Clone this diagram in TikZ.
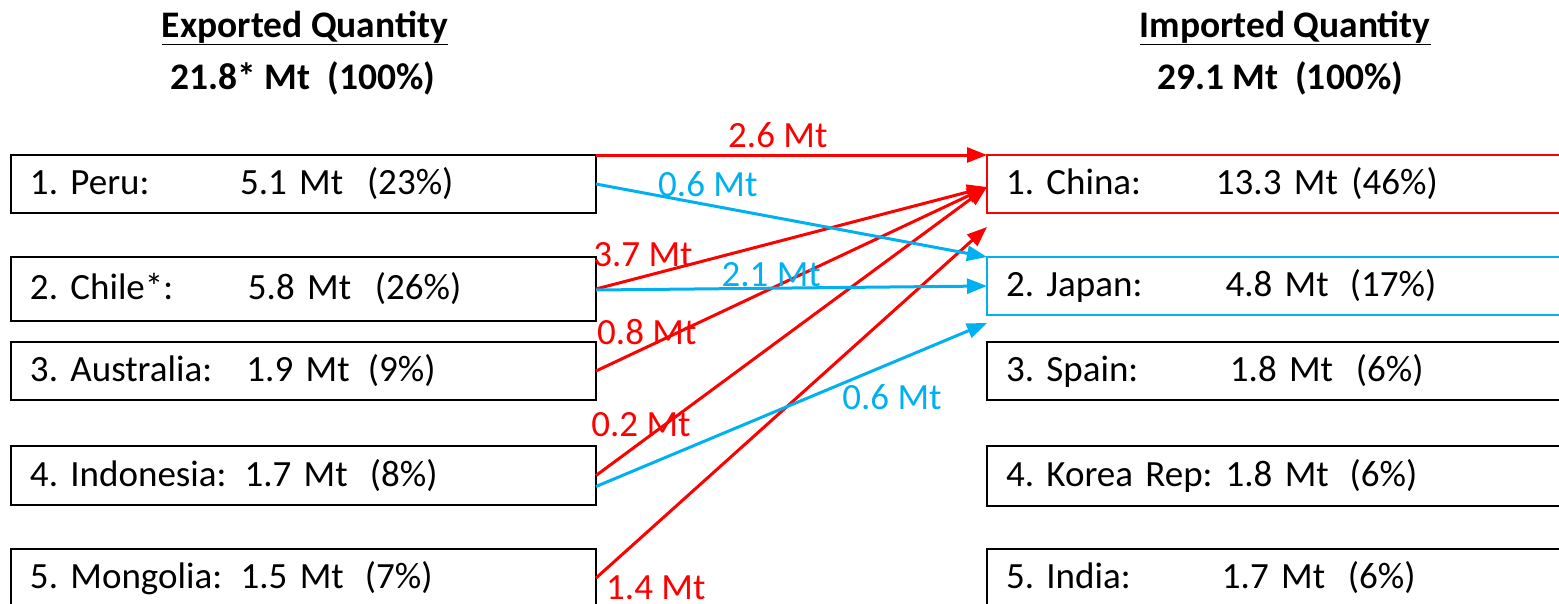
\documentclass[tikz,border=0pt]{standalone}
\usepackage{fontspec}
\setmainfont{Carlito}
\usepackage{tikz}
\usetikzlibrary{arrows.meta}
\definecolor{flowred}{RGB}{255,0,0}
\definecolor{flowblue}{RGB}{0,176,240}
\newcommand{\qtyrow}[5]{\makebox[#2][l]{#1}\makebox[#4][l]{#3}#5}
\frenchspacing

\begin{document}
\begin{tikzpicture}[x=1pt, y=-1pt, font=\fontsize{37}{44}\selectfont,
	country/.style={draw, line width=2pt, rectangle, anchor=north west, outer sep=0pt, inner ysep=0pt, minimum height=58pt, align=left},
	expbox/.style={country, text width=547pt, inner xsep=19pt},
	impbox/.style={country, text width=582pt, inner xsep=19pt},
	flow/.style={line width=3pt, -{Triangle[length=20pt, width=15pt]}},
	lbl/.style={anchor=base, inner sep=0pt},
	heading/.style={anchor=base, font=\fontsize{37.5}{44}\selectfont\bfseries}]
	\useasboundingbox (0,0) rectangle (1559,603);
	\clip (0,0) rectangle (1559,603);
	% headings
	\node [heading] (exph) at (305,37) {\underline{Exported Quantity}};
	\node [heading] (expt) at (303,89) {21.8* Mt~~(100\%)};
	\node [heading] (imph) at (1285,37) {\underline{Imported Quantity}};
	\node [heading] (impt) at (1280,89) {29.1 Mt~~(100\%)};
	% exporters
	\node [expbox] (peru) at (11,155) {\qtyrow{1. Peru:}{210pt}{5.1 Mt}{127pt}{(23\%)}};
	\node [expbox, minimum height=64pt] (chile) at (11,257) {\qtyrow{2. Chile*:}{218pt}{5.8 Mt}{127pt}{(26\%)}};
	\node [expbox] (aus) at (11,342) {\qtyrow{3. Australia:}{216.5pt}{1.9 Mt}{121.5pt}{(9\%)}};
	\node [expbox, minimum height=59pt] (indo) at (11,446) {\qtyrow{4. Indonesia:}{214.6pt}{1.7 Mt}{125.4pt}{(8\%)}};
	\node [expbox] (mong) at (11,549) {\qtyrow{5. Mongolia:}{210.7pt}{1.5 Mt}{124.3pt}{(7\%)}};
	% importers
	\node [impbox, draw=flowred] (china) at (987,155) {\qtyrow{1. China:}{210pt}{13.3 Mt}{135.5pt}{(46\%)}};
	\node [impbox, draw=flowblue] (japan) at (987,257) {\qtyrow{2. Japan:}{219.6pt}{4.8 Mt}{124.4pt}{(17\%)}};
	\node [impbox] (spain) at (987,342) {\qtyrow{3. Spain:}{224pt}{1.8 Mt}{126pt}{(6\%)}};
	\node [impbox, minimum height=60pt] (korea) at (987,446) {\qtyrow{4. Korea Rep:}{219.6pt}{1.8 Mt}{124pt}{(6\%)}};
	\node [impbox] (india) at (987,549) {\qtyrow{5. India:}{216pt}{1.7 Mt}{126pt}{(6\%)}};
	%
	\coordinate (cnin) at ([yshift=-3pt]china.west);
	\coordinate (cnlow) at ([yshift=-14pt]china.south west);
	\coordinate (jplow) at ([yshift=-8pt]japan.south west);
	%
	\draw [flow, flowred] (peru.north east) -- node [lbl, pos=0.465, yshift=8pt] (l1) {2.6 Mt} (china.north west);
	\draw [flow, flowred] (chile.east) -- node [lbl, pos=0.12, yshift=10pt] (l3) {3.7 Mt} (cnin);
	\draw [flow, flowred] (aus.east) -- node [lbl, pos=0.13, yshift=3pt] (l5) {0.8 Mt} (cnin);
	\draw [flow, flowred] (indo.east) -- node [lbl, pos=0.115, yshift=6pt] (l6) {0.2 Mt} (cnin);
	\draw [flow, flowred] (mong.east) -- node [lbl, pos=0.153, yshift=-75pt] (l8) {1.4 Mt} (cnlow);
	\draw [flow, flowblue] (peru.east) -- node [lbl, pos=0.286, yshift=8pt] (l2) {0.6 Mt} (japan.north west);
	\draw [flow, flowblue] ([yshift=-1pt]chile.east) -- node [lbl, pos=0.448, yshift=2pt] (l4) {2.1 Mt} (japan.west);
	\draw [flow, flowblue] ([yshift=-11pt]indo.east) -- node [lbl, pos=0.757, yshift=-47pt] (l7) {0.6 Mt} (jplow);
\end{tikzpicture}
\end{document}
